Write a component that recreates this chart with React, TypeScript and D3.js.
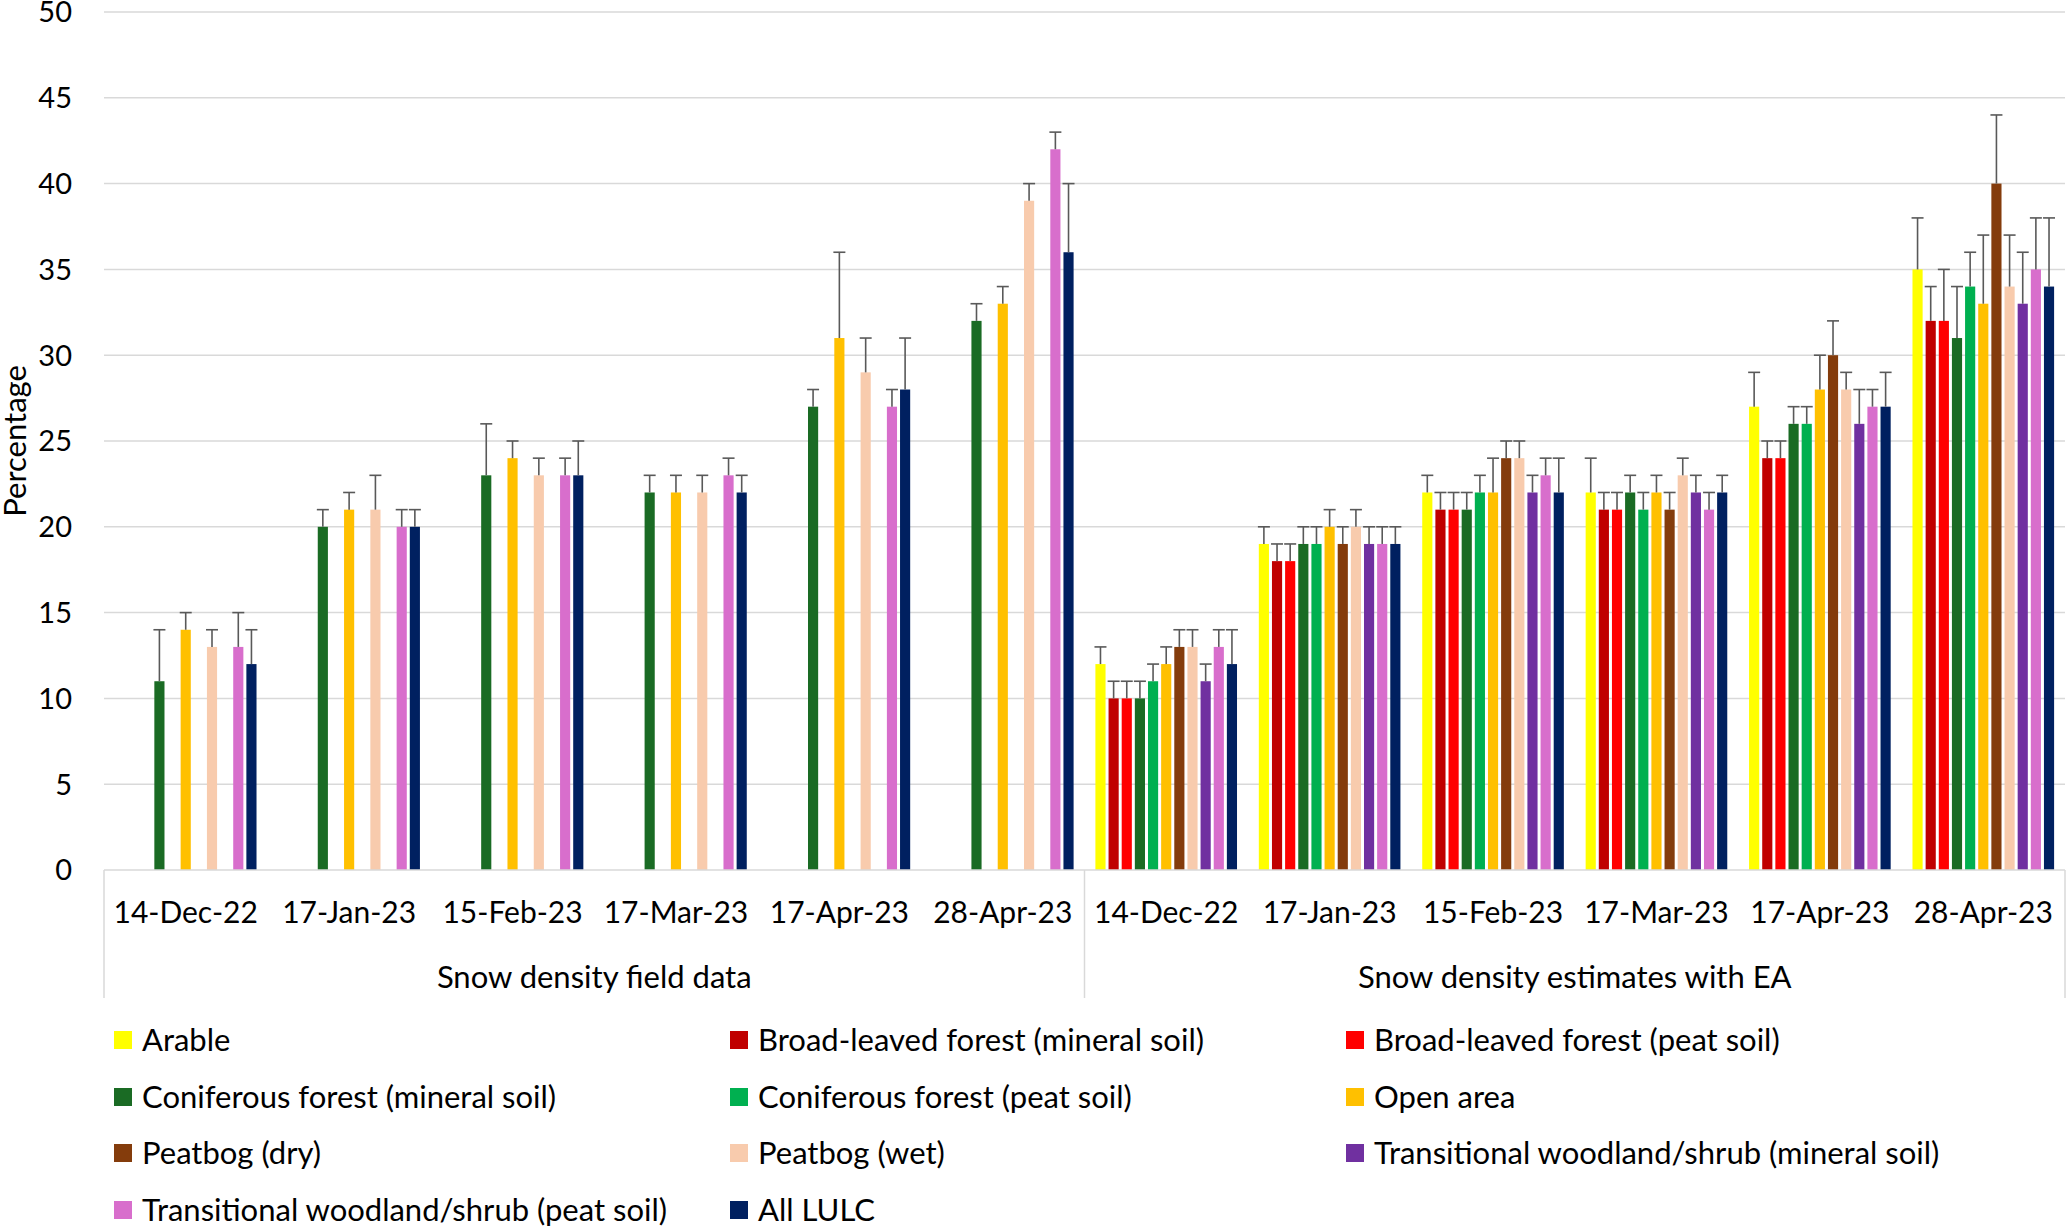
import * as d3 from 'd3'

const dates = ['14-Dec-22', '17-Jan-23', '15-Feb-23', '17-Mar-23', '17-Apr-23', '28-Apr-23']
const groups = ['Snow density field data', 'Snow density estimates with EA']
const yTicks = [0, 5, 10, 15, 20, 25, 30, 35, 40, 45, 50]

const seriesNames = [
    'Arable',
    'Broad-leaved forest (mineral soil)',
    'Broad-leaved forest (peat soil)',
    'Coniferous forest (mineral soil)',
    'Coniferous forest (peat soil)',
    'Open area',
    'Peatbog (dry)',
    'Peatbog (wet)',
    'Transitional woodland/shrub (mineral soil)',
    'Transitional woodland/shrub (peat soil)',
    'All LULC',
]
const seriesColors = [
    '#FFFF00', '#C00000', '#FF0000', '#1A6B24', '#00B050', '#FFC000',
    '#843C0C', '#F8CBAD', '#7030A0', '#D86ECC', '#002060',
]

// values: 6 field dates, then 6 EA dates (null = no bar)
const N = null
const arable = [N, N, N, N, N, N, 12, 19, 22, 22, 27, 35]
const broadMineral = [N, N, N, N, N, N, 10, 18, 21, 21, 24, 32]
const broadPeat = [N, N, N, N, N, N, 10, 18, 21, 21, 24, 32]
const conifMineral = [11, 20, 23, 22, 27, 32, 10, 19, 21, 22, 26, 31]
const conifPeat = [N, N, N, N, N, N, 11, 19, 22, 21, 26, 34]
const openArea = [14, 21, 24, 22, 31, 33, 12, 20, 22, 22, 28, 33]
const peatDry = [N, N, N, N, N, N, 13, 19, 24, 21, 30, 40]
const peatWet = [13, 21, 23, 22, 29, 39, 13, 20, 24, 23, 28, 34]
const transMineral = [N, N, N, N, N, N, 11, 19, 22, 22, 26, 33]
const transPeat = [13, 20, 23, 23, 27, 42, 13, 19, 23, 21, 27, 35]
const allLulc = [12, 20, 23, 22, 28, 36, 12, 19, 22, 22, 27, 34]

// positive error amounts
const arableErr = [0, 0, 0, 0, 0, 0, 1, 1, 1, 2, 2, 3]
const broadMineralErr = [0, 0, 0, 0, 0, 0, 1, 1, 1, 1, 1, 2]
const broadPeatErr = [0, 0, 0, 0, 0, 0, 1, 1, 1, 1, 1, 3]
const conifMineralErr = [3, 1, 3, 1, 1, 1, 1, 1, 1, 1, 1, 3]
const conifPeatErr = [0, 0, 0, 0, 0, 0, 1, 1, 1, 1, 1, 2]
const openAreaErr = [1, 1, 1, 1, 5, 1, 1, 1, 2, 1, 2, 4]
const peatDryErr = [0, 0, 0, 0, 0, 0, 1, 1, 1, 1, 2, 4]
const peatWetErr = [1, 2, 1, 1, 2, 1, 1, 1, 1, 1, 1, 3]
const transMineralErr = [0, 0, 0, 0, 0, 0, 1, 1, 1, 1, 2, 3]
const transPeatErr = [2, 1, 1, 1, 1, 1, 1, 1, 1, 1, 1, 3]
const allLulcErr = [2, 1, 2, 1, 3, 4, 2, 1, 2, 1, 2, 4]

const values = [arable, broadMineral, broadPeat, conifMineral, conifPeat, openArea, peatDry, peatWet, transMineral, transPeat, allLulc]
const errors = [arableErr, broadMineralErr, broadPeatErr, conifMineralErr, conifPeatErr, openAreaErr, peatDryErr, peatWetErr, transMineralErr, transPeatErr, allLulcErr]

const W = 2067
const H = 1227
const left = 104
const right = 2065
const top = 12
const bottom = 870
const font = 'Lato, "Open Sans", sans-serif'
const fsNum = 29
const fsText = 31

export default function App() {
    const categories = groups.flatMap((g, gi) => dates.map(d => `${gi}|${d}`))
    const x0 = d3.scaleBand().domain(categories).range([left, right])
    const pad = 9.4
    const x1 = d3.scaleBand().domain(seriesNames).range([pad, x0.bandwidth() - pad])
    const y = d3.scaleLinear().domain([0, 50]).range([bottom, top])
    const slot = x1.bandwidth()
    const groupW = (right - left) / groups.length

    const legendCols = [114, 730, 1346]
    const legendRows = [1040, 1097, 1153, 1210]

    return (
        <div style={{ position: 'absolute', left: 0, top: 0 }}>
            <svg width={W} height={H} style={{ display: 'block', background: '#fff' }} fontFamily={font}>
                {/* gridlines */}
                {yTicks.map(t => (
                    <g key={t}>
                        {t > 0 && <line x1={left} x2={right} y1={y(t)} y2={y(t)} stroke="#D9D9D9" strokeWidth={1.5} />}
                        <text x={72} y={y(t)} dy="0.36em" textAnchor="end" fontSize={fsNum} fill="#000">{t}</text>
                    </g>
                ))}
                <text transform={`translate(15,441) rotate(-90)`} textAnchor="middle" dy="0.36em" fontSize={fsText} fill="#000">Percentage</text>

                {/* bars */}
                {values.map((vals, si) => (
                    <g key={si}>
                        {vals.map((v, ci) => v == null ? null : (
                            <rect key={ci}
                                x={x0(categories[ci])! + x1(seriesNames[si])! + 1.5}
                                y={y(v)}
                                width={slot - 3}
                                height={y(0) - y(v)}
                                fill={seriesColors[si]} />
                        ))}
                    </g>
                ))}
                {/* error bars */}
                {values.map((vals, si) => (
                    <g key={'e' + si} stroke="#595959" strokeWidth={1.6}>
                        {vals.map((v, ci) => {
                            if (v == null) return null
                            const cx = x0(categories[ci])! + x1(seriesNames[si])! + slot / 2
                            const yt = y(v + errors[si][ci])
                            return (
                                <g key={ci}>
                                    <line x1={cx} x2={cx} y1={y(v)} y2={yt} />
                                    <line x1={cx - 6} x2={cx + 6} y1={yt} y2={yt} />
                                </g>
                            )
                        })}
                    </g>
                ))}

                {/* category axis */}
                <line x1={left} x2={right} y1={bottom} y2={bottom} stroke="#D9D9D9" strokeWidth={1.5} />
                {d3.range(groups.length + 1).map(i => (
                    <line key={i} x1={left + i * groupW} x2={left + i * groupW} y1={bottom} y2={998} stroke="#D9D9D9" strokeWidth={1.5} />
                ))}
                {categories.map(c => (
                    <text key={c} x={x0(c)! + x0.bandwidth() / 2} y={923} textAnchor="middle" fontSize={fsNum + 1} fill="#000">{c.split('|')[1]}</text>
                ))}
                {groups.map((g, i) => (
                    <text key={g} x={left + (i + 0.5) * groupW} y={988} textAnchor="middle" fontSize={fsText} fill="#000">{g}</text>
                ))}

                {/* legend */}
                {seriesNames.map((s, i) => {
                    const lx = legendCols[i % 3]
                    const ly = legendRows[Math.floor(i / 3)]
                    return (
                        <g key={s}>
                            <rect x={lx} y={ly - 9} width={18} height={18} fill={seriesColors[i]} />
                            <text x={lx + 28} y={ly} dy="0.36em" fontSize={fsText} fill="#000">{s}</text>
                        </g>
                    )
                })}
            </svg>
        </div>
    )
}
